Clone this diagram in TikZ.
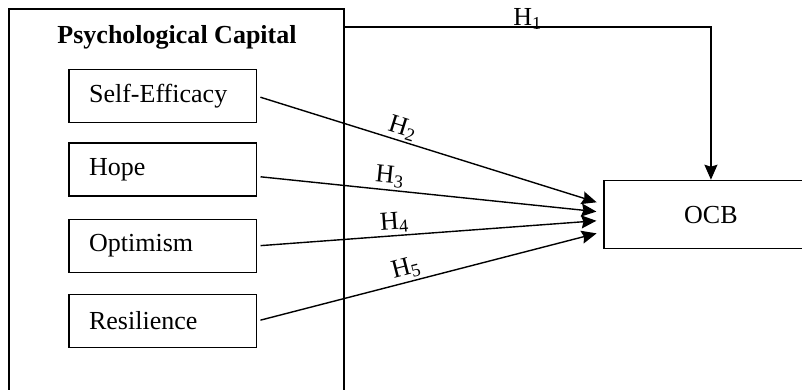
\documentclass[tikz,border=0pt]{standalone}
\usepackage{fontspec}
\setmainfont{Liberation Serif}
\usetikzlibrary{arrows.meta, positioning}

\begin{document}
\begin{tikzpicture}[
    font=\fontsize{13}{15}\selectfont,
    outer/.style={rectangle, draw, line width=0.7pt, minimum width=5.89cm, minimum height=6.78cm},
    dim/.style={rectangle, draw, line width=0.7pt, minimum width=3.29cm, minimum height=0.93cm, text width=2.59cm, align=left, inner xsep=0.35cm},
    target/.style={rectangle, draw, line width=0.7pt, minimum width=3.76cm, minimum height=1.2cm},
    arrow/.style={line width=0.7pt, -{Stealth[length=7.5pt, width=6.5pt, inset=1pt]}, shorten >=0.12cm, shorten <=0.06cm},
    hyp/.style={sloped, above, inner sep=1pt}
]
\useasboundingbox (0,0) rectangle (14.09,6.85);

% Psychological Capital construct
\node[outer] (pc) at (3.10, 3.30) {};
\node (title) at (3.11, 6.19) {\textbf{Psychological Capital}};

% Dimensions
\node[dim] (se) at (2.86, 5.16) {Self-Efficacy};
\node[dim] (hope) at (2.86, 3.87) {Hope};
\node[dim] (opt) at (2.86, 2.53) {Optimism};
\node[dim] (res) at (2.86, 1.21) {Resilience};

% Outcome
\node[target] (ocb) at (12.49, 3.08) {OCB};

% Direct path H1
\coordinate (h1start) at ([yshift=-0.33cm]pc.north east);
\draw[arrow, shorten >=0pt, shorten <=0pt] (h1start) -| node[pos=0.25, above=-1.5pt, inner sep=0pt] (h1) {H\textsubscript{1}} (ocb.north);

% Paths from each dimension
\draw[arrow] (se.east) -- node[hyp, pos=0.41] (h2) {H\textsubscript{2}} ([yshift=0.18cm]ocb.west);
\draw[arrow] ([yshift=-0.12cm]hope.east) -- node[hyp, pos=0.38] (h3) {H\textsubscript{3}} ([yshift=0.04cm]ocb.west);
\draw[arrow] (opt.east) -- node[hyp, pos=0.40] (h4) {H\textsubscript{4}} ([yshift=-0.1cm]ocb.west);
\draw[arrow] (res.east) -- node[hyp, pos=0.44] (h5) {H\textsubscript{5}} ([yshift=-0.3cm]ocb.west);

\end{tikzpicture}
\end{document}
